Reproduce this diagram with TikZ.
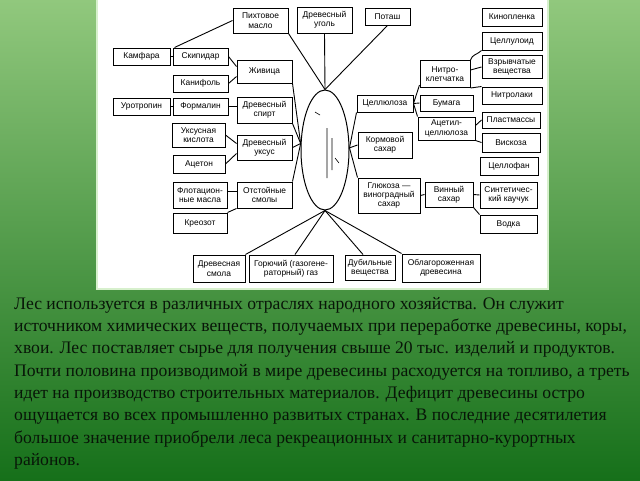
\documentclass[tikz,border=0pt]{standalone}
\usepackage{fontspec}
\setmainfont{Liberation Serif}
\newfontfamily\boxfont{Liberation Sans}
\usetikzlibrary{shapes.geometric}
\definecolor{bgtop}{RGB}{145,200,125}
\definecolor{bgbot}{RGB}{22,112,26}
\definecolor{ink}{RGB}{8,22,8}
\definecolor{rim}{RGB}{215,240,205}
\tikzset{%
  blk/.style  = {shape=rectangle, draw, line width=1pt, align=center,%
                 inner sep=1pt, font=\boxfont\fontsize{8.4}{9.4}\selectfont},%
  wire/.style = {line width=0.9pt},%
  core/.style = {ellipse, draw, line width=1pt, inner sep=0pt,%
                 minimum width=48pt, minimum height=120pt}%
}
\begin{document}
\begin{tikzpicture}[x=1pt,y=-1pt]
	\useasboundingbox (0,0) rectangle (640,480);
	\shade[top color=bgtop, bottom color=bgbot] (0,0) rectangle (640,480);
	\fill[white, draw=rim, line width=2pt] (97,-2) rectangle (548,289);
	% centre
	\node[core] (les) at (325,150) {};
	\draw[line width=0.6pt] (315,112) -- (320,115) (327,128) -- (327,178)
		(332,138) -- (332,170) (335,158) -- (339,163);
	% top row
	\node[blk, minimum width=55, minimum height=25] (pihta) at (260.5,20.5) {Пихтовое\\масло};
	\node[blk, minimum width=55, minimum height=26] (ugol) at (324.5,20) {Древесный\\уголь};
	\node[blk, minimum width=45, minimum height=17] (potash) at (387.5,16.5) {Поташ};
	% left side
	\node[blk, minimum width=57, minimum height=17] (kamfara) at (141.5,56.5) {Камфара};
	\node[blk, minimum width=55, minimum height=17] (skipidar) at (200.5,56.5) {Скипидар};
	\node[blk, minimum width=55, minimum height=17] (kanif) at (200.5,83.5) {Канифоль};
	\node[blk, minimum width=55, minimum height=23] (zhivica) at (264.5,71.5) {Живица};
	\node[blk, minimum width=57, minimum height=17] (urotr) at (141.5,106.5) {Уротропин};
	\node[blk, minimum width=55, minimum height=17] (formal) at (200.5,106.5) {Формалин};
	\node[blk, minimum width=55, minimum height=26] (spirt) at (264.5,110) {Древесный\\спирт};
	\node[blk, minimum width=53, minimum height=24] (kislota) at (198.5,135) {Уксусная\\кислота};
	\node[blk, minimum width=55, minimum height=25] (uksus) at (264.5,147.5) {Древесный\\уксус};
	\node[blk, minimum width=52, minimum height=18] (aceton) at (199,164) {Ацетон};
	\node[blk, minimum width=54, minimum height=26] (flot) at (200,195) {Флотацион-\\ные масла};
	\node[blk, minimum width=55, minimum height=26] (otst) at (264.5,195) {Отстойные\\смолы};
	\node[blk, minimum width=54, minimum height=20] (kreozot) at (200,223) {Креозот};
	% bottom row
	\node[blk, minimum width=52, minimum height=27] (smola) at (219,268.5) {Древесная\\смола};
	\node[blk, minimum width=84, minimum height=27] (gaz) at (291,268.5) {Горючий (газогене-\\раторный) газ};
	\node[blk, minimum width=50, minimum height=25] (dubil) at (370,267.5) {Дубильные\\вещества};
	\node[blk, minimum width=78, minimum height=28] (oblag) at (441,268) {Облагороженная\\древесина};
	% right side
	\node[blk, minimum width=56, minimum height=17] (cellulose) at (385,103.5) {Целлюлоза};
	\node[blk, minimum width=54, minimum height=26] (korm) at (385,145) {Кормовой\\сахар};
	\node[blk, minimum width=62, minimum height=35] (gluk) at (389,195.5) {Глюкоза —\\виноградный\\сахар};
	\node[blk, minimum width=50, minimum height=27] (nitro) at (445,74) {Нитро-\\клетчатка};
	\node[blk, minimum width=53, minimum height=16] (bumaga) at (446.5,103) {Бумага};
	\node[blk, minimum width=57, minimum height=23] (acetil) at (446.5,128.5) {Ацетил-\\целлюлоза};
	\node[blk, minimum width=48, minimum height=25] (vinn) at (449,194.5) {Винный\\сахар};
	\node[blk, minimum width=60, minimum height=18] (kino) at (512,17) {Кинопленка};
	\node[blk, minimum width=60, minimum height=18] (celluloid) at (512,41) {Целлулоид};
	\node[blk, minimum width=60, minimum height=23] (vzryv) at (512,67) {Взрывчатые\\вещества};
	\node[blk, minimum width=60, minimum height=17] (nitrolak) at (512,95.5) {Нитролаки};
	\node[blk, minimum width=58, minimum height=16] (plast) at (511,120) {Пластмассы};
	\node[blk, minimum width=58, minimum height=19] (viskoza) at (511,142.5) {Вискоза};
	\node[blk, minimum width=58, minimum height=18] (cellofan) at (509,166) {Целлофан};
	\node[blk, minimum width=57, minimum height=26] (kauch) at (508.5,195) {Синтетичес-\\кий каучук};
	\node[blk, minimum width=57, minimum height=18] (vodka) at (508.5,224) {Водка};
	% links to the centre
	\draw[wire] (pihta.south east) -- (les.north);
	\draw[wire] (ugol.south) -- (les.north);
	\draw[wire] (potash.south) -- (les.north);
	\draw[wire] (zhivica.south east) -- (les.165);
	\draw[wire] (spirt.south east) -- (les.165);
	\draw[wire] (uksus.east) -- (les.165);
	\draw[wire] (otst.north east) -- (les.165);
	\draw[wire] (les.south) -- (smola.north east);
	\draw[wire] (les.south) -- ([xshift=4pt]gaz.north);
	\draw[wire] (les.south) -- ([xshift=-7pt]dubil.north);
	\draw[wire] (les.south) -- (oblag.north west);
	\draw[wire] (les.5) -- (cellulose.south west);
	\draw[wire] (les.5) -- (korm.west);
	\draw[wire] (les.5) -- (gluk.north west);
	% left branches
	\draw[wire] ([xshift=2pt]skipidar.north west) -- (pihta.west);
	\draw[wire] (kamfara.east) -- (skipidar.west);
	\draw[wire] (skipidar.east) -- ([yshift=5pt]zhivica.west);
	\draw[wire] (kanif.east) -- ([yshift=-5pt]zhivica.west);
	\draw[wire] (urotr.east) -- (formal.west);
	\draw[wire] (formal.east) -- (formal.east -| spirt.west);
	\draw[wire] (kislota.east) -- ([yshift=4pt]uksus.west);
	\draw[wire] (aceton.east) -- ([yshift=-6pt]uksus.west);
	\draw[wire] ([yshift=4pt]flot.east) -- ([yshift=4pt]otst.west);
	\draw[wire] (kreozot.north east) -- (otst.south west);
	% right branches
	\draw[wire] (cellulose.east) -- (bumaga.west);
	\draw[wire] (cellulose.east) -- ([yshift=3pt]nitro.south west);
	\draw[wire] (cellulose.east) -- (acetil.north west);
	\draw[wire] (nitro.north east) to[out=75,in=225] (celluloid.south west);
	\draw[wire] ([yshift=4pt]nitro.east) -- (vzryv.west);
	\draw[wire] (nitro.south east) -- (nitrolak.north west);
	\draw[wire] ([yshift=3pt]acetil.east) -- (plast.west);
	\draw[wire] (acetil.south east) -- (viskoza.west);
	\draw[wire] (gluk.east) -- (vinn.west);
	\draw[wire] (vinn.east) -- (kauch.west);
	\draw[wire] (vinn.south east) -- (vodka.north west);
	% text under the picture
	\node[anchor=north west, inner sep=0pt, align=left, text=ink,
		font=\fontsize{17.6}{22.3}\selectfont] (about) at (14,297) {%
		Лес используется в различных отраслях народного хозяйства. Он служит\\
		источником химических веществ, получаемых при переработке древесины, коры,\\
		хвои. Лес поставляет сырье для получения свыше 20 тыс. изделий и продуктов.\\
		Почти половина производимой в мире древесины расходуется на топливо, а треть\\
		идет на производство строительных материалов. Дефицит древесины остро\\
		ощущается во всех промышленно развитых странах. В последние десятилетия\\
		большое значение приобрели леса рекреационных и санитарно-курортных\\
		районов.};
\end{tikzpicture}
\end{document}
